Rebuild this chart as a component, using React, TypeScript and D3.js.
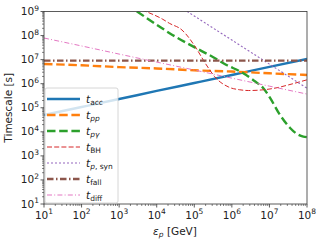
import React from "react";
import * as d3 from "d3";

const W = 324, H = 243;
const M = { left: 44, right: 307, top: 11.5, bottom: 204 };

// Energies [GeV] and timescales [s]
const accE = [1e1, 1e2, 1e3, 1e4, 1e5, 1e6, 1e7, 1e8];
const accT = [5.0e4, 1.07e5, 2.3e5, 5.0e5, 1.07e6, 2.3e6, 5.0e6, 1.07e7];

const ppE = [1e1, 1e2, 1e3, 1e4, 1e5, 1e6, 1e7, 1e8];
const ppT = [6.6e6, 5.8e6, 4.9e6, 4.3e6, 3.6e6, 3.2e6, 2.7e6, 2.3e6];

const pgE = [1.6e3, 3.0e3, 1.2e4, 2.2e4, 1.0e5, 3.2e5, 7.2e5, 1.7e6, 4.2e6, 6.9e6, 1.05e7, 1.9e7, 3.5e7, 5.0e7, 8.0e7, 1.0e8];
const pgT = [2.0e9, 1.0e9, 2.34e8, 1.26e8, 3.3e7, 1.26e7, 6.0e6, 3.16e6, 1.23e6, 6.5e5, 2.5e5, 5.1e4, 1.48e4, 8.9e3, 6.3e3, 6.0e3];

const bhE = [4.0e3, 1.4e4, 2.2e4, 4.7e4, 6.3e4, 1.05e5, 2.1e5, 3.5e5, 8.3e5, 1.6e6, 2.8e6, 6.3e6, 1.6e7, 3.2e7, 1.0e8];
const bhT = [1.15e9, 4.9e8, 3.2e8, 1.7e8, 1.05e8, 3.5e7, 6.0e6, 1.95e6, 7.2e5, 5.6e5, 5.2e5, 5.5e5, 6.8e5, 8.9e5, 1.45e6];

const synE = [1e4, 1e5, 1e6, 1e7, 1e8];
const synT = [6.5e9, 6.5e8, 6.5e7, 6.5e6, 6.5e5];

const fallE = [1e1, 1e8];
const fallT = [9.1e6, 9.1e6];

const diffE = [1e1, 1e2, 1e3, 1e4, 1e5, 1e6, 1e7, 1e8];
const diffT = [7.9e7, 3.7e7, 1.7e7, 7.9e6, 3.7e6, 1.7e6, 7.9e5, 3.7e5];

const xTicks = [1, 2, 3, 4, 5, 6, 7, 8];
const yTicks = [1, 2, 3, 4, 5, 6, 7, 8, 9];

type Series = {
  key: string;
  E: number[];
  T: number[];
  color: string;
  width: number;
  dash: string;
  sub: React.ReactNode;
};

const series: Series[] = [
  { key: "acc", E: accE, T: accT, color: "#1f77b4", width: 2.4, dash: "", sub: <tspan>acc</tspan> },
  { key: "pp", E: ppE, T: ppT, color: "#ff7f0e", width: 2.4, dash: "8.5,3.7", sub: <tspan fontStyle="italic">pp</tspan> },
  { key: "pg", E: pgE, T: pgT, color: "#2ca02c", width: 2.4, dash: "8.5,3.7", sub: <tspan fontStyle="italic">pγ</tspan> },
  { key: "bh", E: bhE, T: bhT, color: "#d62728", width: 1.0, dash: "5,2.2", sub: <tspan>BH</tspan> },
  { key: "syn", E: synE, T: synT, color: "#9467bd", width: 1.1, dash: "2,2", sub: <><tspan fontStyle="italic">p</tspan><tspan>, syn</tspan></> },
  { key: "fall", E: fallE, T: fallT, color: "#8c564b", width: 2.4, dash: "6.5,2.5,1.5,2.5", sub: <tspan>fall</tspan> },
  { key: "diff", E: diffE, T: diffT, color: "#e377c2", width: 1.0, dash: "5,2.2,1,2.2", sub: <tspan>diff</tspan> },
];

export default function App() {
  const x = d3.scaleLog().domain([1e1, 1e8]).range([M.left, M.right]);
  const y = d3.scaleLog().domain([1e1, 1e9]).range([M.bottom, M.top]);
  const line = d3
    .line<[number, number]>()
    .x((d) => x(d[0]))
    .y((d) => y(d[1]))
    .curve(d3.curveMonotoneX);

  const font = "DejaVu Sans, sans-serif";
  const minorX: number[] = [];
  for (let dec = 1; dec < 8; dec++) for (let m = 2; m <= 9; m++) minorX.push(m * Math.pow(10, dec));
  const minorY: number[] = [];
  for (let dec = 1; dec < 9; dec++) for (let m = 2; m <= 9; m++) minorY.push(m * Math.pow(10, dec));

  const legX = 45, legY = 88, legW = 73, legH = 115;
  const legRow0 = 99, legStep = 16;

  return (
    <svg width={W} height={H} style={{ position: "absolute", left: 0, top: 0 }} fontFamily={font}>
      <rect width={W} height={H} fill="#fff" />
      <defs>
        <clipPath id="plot">
          <rect x={M.left} y={M.top} width={M.right - M.left} height={M.bottom - M.top} />
        </clipPath>
      </defs>
      <g clipPath="url(#plot)">
        {series.map((s) => (
          <path
            key={s.key}
            d={line(s.E.map((e, i) => [e, s.T[i]] as [number, number])) || ""}
            fill="none"
            stroke={s.color}
            strokeWidth={s.width}
            strokeDasharray={s.dash}
          />
        ))}
      </g>
      {/* frame */}
      <rect x={M.left} y={M.top} width={M.right - M.left} height={M.bottom - M.top} fill="none" stroke="#333" strokeWidth={0.8} />
      {/* x ticks */}
      {xTicks.map((p) => (
        <g key={"x" + p}>
          <line x1={x(Math.pow(10, p))} x2={x(Math.pow(10, p))} y1={M.bottom} y2={M.bottom + 3.5} stroke="#333" strokeWidth={0.8} />
          <text x={x(Math.pow(10, p))} y={M.bottom + 14.5} textAnchor="middle" fontSize={10.5} fill="#222">
            10<tspan dy={-4.5} fontSize={7.5}>{p}</tspan>
          </text>
        </g>
      ))}
      {minorX.map((v, i) => (
        <line key={"mx" + i} x1={x(v)} x2={x(v)} y1={M.bottom} y2={M.bottom + 2} stroke="#333" strokeWidth={0.6} />
      ))}
      {yTicks.map((p) => (
        <g key={"y" + p}>
          <line x1={M.left - 3.5} x2={M.left} y1={y(Math.pow(10, p))} y2={y(Math.pow(10, p))} stroke="#333" strokeWidth={0.8} />
          <text x={M.left - 5} y={y(Math.pow(10, p)) + 3.5} textAnchor="end" fontSize={10.5} fill="#222">
            10<tspan dy={-4.5} fontSize={7.5}>{p}</tspan>
          </text>
        </g>
      ))}
      {minorY.map((v, i) => (
        <line key={"my" + i} x1={M.left - 2} x2={M.left} y1={y(v)} y2={y(v)} stroke="#333" strokeWidth={0.6} />
      ))}
      {/* axis labels */}
      <text x={175} y={235} textAnchor="middle" fontSize={10.5} fill="#222">
        <tspan fontStyle="italic">ε</tspan>
        <tspan fontStyle="italic" fontSize={7.5} dy={2}>p</tspan>
        <tspan dy={-2}> [GeV]</tspan>
      </text>
      <text transform={`translate(12,${(M.top + M.bottom) / 2}) rotate(-90)`} textAnchor="middle" fontSize={10.5} fill="#222">
        Timescale [s]
      </text>
      {/* legend */}
      <rect x={legX} y={legY} width={legW} height={legH} rx={2} fill="#fff" fillOpacity={0.8} stroke="#ccc" strokeWidth={0.8} />
      {series.map((s, i) => {
        const ly = legRow0 + i * legStep;
        return (
          <g key={"leg" + s.key}>
            <line x1={47} x2={80} y1={ly} y2={ly} stroke={s.color} strokeWidth={s.width} strokeDasharray={s.dash} />
            <text x={86} y={ly + 3.5} fontSize={10.5} fill="#222">
              <tspan fontStyle="italic">t</tspan>
              <tspan fontSize={7.5} dy={2}>{s.sub}</tspan>
            </text>
          </g>
        );
      })}
    </svg>
  );
}
